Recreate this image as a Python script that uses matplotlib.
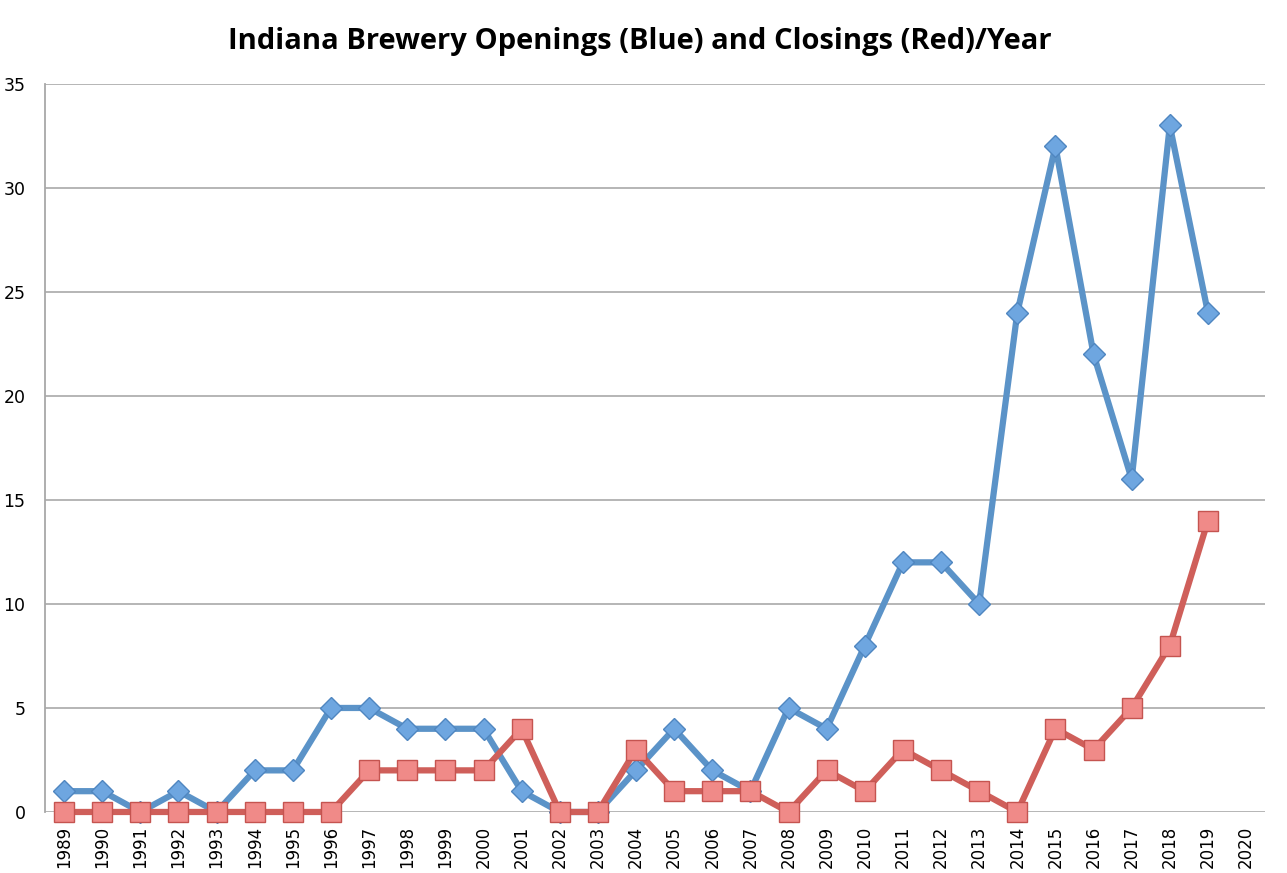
import matplotlib
matplotlib.use("Agg")
import matplotlib.pyplot as plt
import numpy as np

years = [str(y) for y in range(1989, 2021)]
openings = [1, 1, 0, 1, 0, 2, 2, 5, 5, 4, 4, 4, 1, 0, 0, 2, 4, 2, 1, 5, 4, 8, 12, 12, 10, 24, 32, 22, 16, 33, 24]
closings = [0, 0, 0, 0, 0, 0, 0, 0, 2, 2, 2, 2, 4, 0, 0, 3, 1, 1, 1, 0, 2, 1, 3, 2, 1, 0, 4, 3, 5, 8, 14]
yticks = [0, 5, 10, 15, 20, 25, 30, 35]

fig = plt.figure(figsize=(12.87, 8.73), dpi=100)
ax = fig.add_axes([0.035, 0.0699, 0.948, 0.834])

x = np.arange(len(years))
ax.plot(x[:len(openings)], openings, color="#5B93C8", lw=4.5, marker="D", ms=11,
        markerfacecolor="#6EA6E0", markeredgecolor="#4F86C0", markeredgewidth=1,
        zorder=3, clip_on=False)
ax.plot(x[:len(closings)], closings, color="#CF5F5A", lw=4.5, marker="s", ms=14,
        markerfacecolor="#F08A88", markeredgecolor="#C55450", markeredgewidth=1,
        zorder=4, clip_on=False)

ax.set_xlim(-0.5, len(years) - 0.5)
ax.set_ylim(0, 35)
ax.set_yticks(yticks)
ax.set_yticklabels([str(v) for v in yticks], fontsize=12.5, family="DejaVu Sans")
ax.set_xticks(x)
ax.set_xticklabels(years, rotation=90, fontsize=12, family="DejaVu Sans")
ax.tick_params(axis="x", length=0, pad=10)
ax.tick_params(axis="y", length=0, pad=14)
ax.grid(axis="y", color="#B0B0B0", lw=1.3)
ax.set_axisbelow(True)
for s in ["top", "right", "bottom"]:
    ax.spines[s].set_visible(False)
ax.spines["left"].set_color("#A8A8A8")
ax.spines["left"].set_linewidth(1.3)

fig.text(0.497, 0.953, "Indiana Brewery Openings (Blue) and Closings (Red)/Year",
         ha="center", va="center", fontsize=21, fontweight="bold", family="Open Sans")

fig.savefig("out.png", dpi=100, facecolor="white")
